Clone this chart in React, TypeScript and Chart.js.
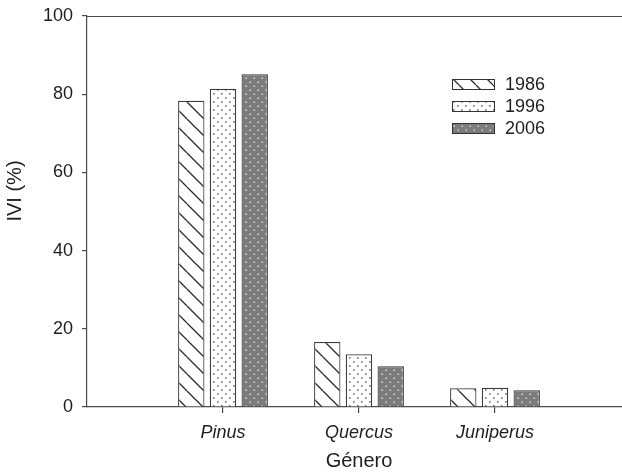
import React, { useEffect, useRef } from 'react';
import { Chart, registerables } from 'chart.js';

Chart.register(...registerables);

const categories = ['Pinus', 'Quercus', 'Juniperus'];
const years = ['1986', '1996', '2006'];
const ivi1986 = [78.3, 16.6, 4.8];
const ivi1996 = [81.4, 13.5, 4.9];
const ivi2006 = [85.1, 10.4, 4.3];
const yTicks = [0, 20, 40, 60, 80, 100];

const FONT = '"Liberation Sans", Arial, Helvetica, sans-serif';
const AXIS = '#4a4a4a';

function tile(size: number, draw: (g: CanvasRenderingContext2D, s: number) => void) {
  const c = document.createElement('canvas');
  c.width = size;
  c.height = size;
  const g = c.getContext('2d')!;
  draw(g, size);
  return g.createPattern(c, 'repeat')!;
}

function makePatterns() {
  const hatch = tile(17, (g, s) => {
    g.fillStyle = '#ffffff';
    g.fillRect(0, 0, s, s);
    g.strokeStyle = '#2a2a2a';
    g.lineWidth = 1.3;
    g.beginPath();
    for (const k of [-s, 0, s]) {
      g.moveTo(k, 0);
      g.lineTo(k + s, s);
    }
    g.stroke();
  });
  const specks = tile(8, (g, s) => {
    g.fillStyle = '#ffffff';
    g.fillRect(0, 0, s, s);
    g.fillStyle = '#808080';
    g.fillRect(1, 1, 1.6, 1.8);
    g.fillRect(5, 5, 1.6, 1.8);
  });
  const dots = tile(8, (g, s) => {
    g.fillStyle = '#7b7b7b';
    g.fillRect(0, 0, s, s);
    g.fillStyle = '#d8d8d8';
    g.fillRect(1.5, 1.5, 1.5, 1.5);
    g.fillRect(5.5, 5.5, 1.5, 1.5);
  });
  return [hatch, specks, dots];
}

const extrasPlugin = {
  id: 'extras',
  afterDraw(chart: any) {
    const ctx = chart.ctx as CanvasRenderingContext2D;
    const area = chart.chartArea;
    ctx.save();
    // top frame line
    ctx.strokeStyle = AXIS;
    ctx.lineWidth = 1.2;
    ctx.beginPath();
    ctx.moveTo(area.left, area.top + 0.5);
    ctx.lineTo(area.right, area.top + 0.5);
    ctx.stroke();

    // y axis title
    ctx.fillStyle = '#1e1e1e';
    ctx.font = `20px ${FONT}`;
    ctx.textAlign = 'center';
    ctx.textBaseline = 'middle';
    ctx.translate(15, 191);
    ctx.rotate(-Math.PI / 2);
    ctx.fillText('IVI (%)', 0, 0);
    ctx.restore();

    // legend
    ctx.save();
    const rows = [84, 106, 128];
    chart.data.datasets.forEach((ds: any, i: number) => {
      const y = rows[i];
      ctx.fillStyle = ds.backgroundColor;
      ctx.fillRect(452, y - 5, 43, 11);
      ctx.strokeStyle = '#333';
      ctx.lineWidth = 1;
      ctx.strokeRect(452.5, y - 4.5, 42, 10);
      ctx.fillStyle = '#1e1e1e';
      ctx.font = `18px ${FONT}`;
      ctx.textAlign = 'left';
      ctx.textBaseline = 'middle';
      ctx.fillText(ds.label, 505, y + 1);
    });
    ctx.restore();
  },
};

export default function App() {
  const ref = useRef<HTMLCanvasElement>(null);

  useEffect(() => {
    if (!ref.current) return;
    const [hatch, specks, dots] = makePatterns();
    const fills = [hatch, specks, dots];
    const series = [ivi1986, ivi1996, ivi2006];
    const chart = new Chart(ref.current, {
      type: 'bar',
      data: {
        datasets: years.map((yr, i) => ({
          label: yr,
          data: series[i].map((v, j) => ({ x: j + 1, y: v })),
          backgroundColor: fills[i] as any,
          borderColor: '#3a3a3a',
          borderWidth: 1.2,
          categoryPercentage: 0.7,
          barPercentage: 0.83,
        })),
      },
      options: {
        animation: false,
        responsive: false,
        devicePixelRatio: 1,
        layout: { padding: { left: 0, top: 16, right: 9, bottom: 0 } },
        plugins: {
          legend: { display: false },
          tooltip: { enabled: false },
        },
        scales: {
          x: {
            type: 'linear',
            offset: false,
            min: 0,
            max: categories.length + 1,
            afterBuildTicks: (scale: any) => {
              scale.ticks = categories.map((_, i) => ({ value: i + 1 }));
            },
            afterFit: (scale: any) => {
              scale.height = 65;
              scale.paddingLeft = 0;
              scale.paddingRight = 0;
            },
            ticks: {
              callback: (v: any) => categories[Number(v) - 1] ?? '',
              font: { family: FONT, size: 18, style: 'italic' },
              color: '#1e1e1e',
              padding: 9,
              autoSkip: false,
              maxRotation: 0,
            },
            grid: { drawOnChartArea: false, offset: false, tickLength: 6, color: AXIS, lineWidth: 1.2 },
            border: { color: AXIS, width: 1.2 },
            title: {
              display: true,
              text: 'Género',
              font: { family: FONT, size: 20, lineHeight: 1 },
              color: '#1e1e1e',
              padding: { top: 0, bottom: 1 },
            },
          },
          y: {
            min: 0,
            max: 100,
            afterBuildTicks: (scale: any) => {
              scale.ticks = yTicks.map((v) => ({ value: v }));
            },
            afterFit: (scale: any) => {
              scale.width = 87;
              scale.paddingTop = 0;
              scale.paddingBottom = 0;
            },
            ticks: {
              font: { family: FONT, size: 18 },
              color: '#1e1e1e',
              padding: 9,
            },
            grid: { drawOnChartArea: false, tickLength: 5, color: AXIS, lineWidth: 1.2 },
            border: { color: AXIS, width: 1.2 },
          },
        },
      },
      plugins: [extrasPlugin],
    });
    return () => chart.destroy();
  }, []);

  return (
    <div
      style={{
        position: 'fixed',
        left: 0,
        top: 0,
        width: 622,
        height: 472,
        overflow: 'hidden',
        background: '#fff',
      }}
    >
      <canvas ref={ref} width={640} height={472} style={{ display: 'block', width: 640, height: 472 }} />
    </div>
  );
}
